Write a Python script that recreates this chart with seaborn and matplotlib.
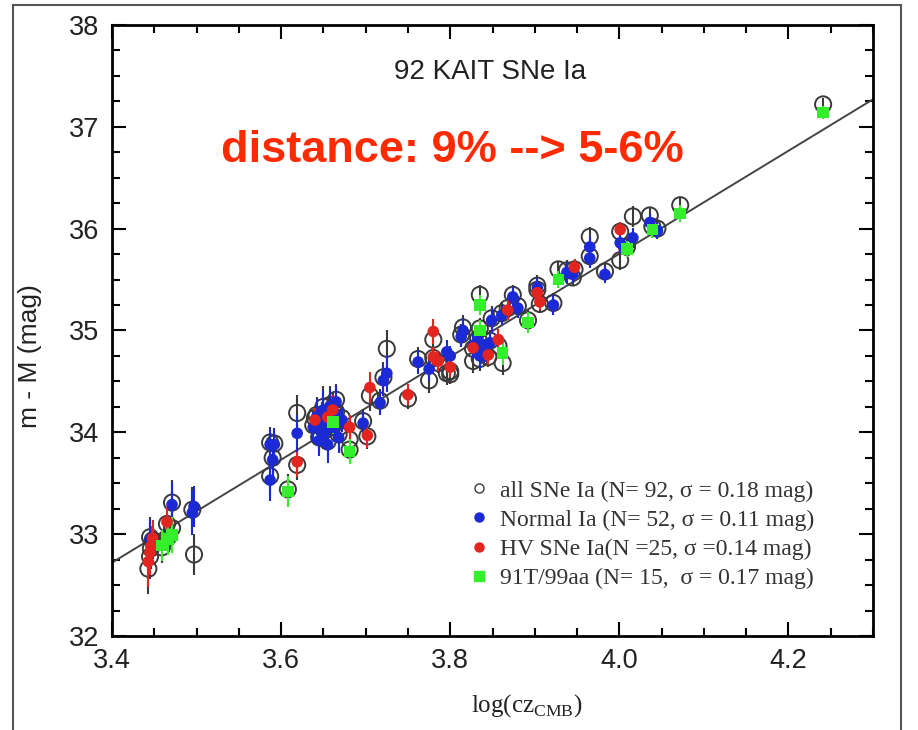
import matplotlib
matplotlib.use("Agg")
import matplotlib.pyplot as plt
from matplotlib.lines import Line2D
from matplotlib.patches import Rectangle
from matplotlib.ticker import MultipleLocator
import numpy as np
import pandas as pd
import seaborn as sns

# ---- data: log(cz_CMB) and distance modulus for the KAIT sample ----
normal_logcz = [3.445, 3.471, 3.495, 3.497, 3.587, 3.590, 3.587, 3.592, 3.619, 3.638,
                3.642, 3.645, 3.648, 3.650, 3.652, 3.655, 3.658, 3.662, 3.665, 3.668,
                3.697, 3.717, 3.721, 3.725, 3.762, 3.775, 3.796, 3.800, 3.813, 3.815,
                3.827, 3.833, 3.835, 3.840, 3.847, 3.849, 3.861, 3.874, 3.880, 3.903,
                3.922, 3.938, 3.945, 3.965, 3.965, 3.983, 4.001, 4.016, 4.036, 4.045,
                3.665, 3.672]
normal_mu = [32.95, 33.29, 33.21, 33.27, 33.88, 33.73, 33.53, 33.88, 33.99, 34.05,
             34.15, 33.92, 34.10, 34.22, 34.00, 33.88, 34.25, 34.05, 34.18, 33.95,
             34.09, 34.29, 34.51, 34.58, 34.69, 34.62, 34.79, 34.75, 34.94, 35.00,
             34.85, 34.90, 34.75, 34.80, 34.88, 35.10, 35.15, 35.33, 35.22, 35.42,
             35.25, 35.57, 35.55, 35.82, 35.71, 35.55, 35.86, 35.91, 36.06, 35.98,
             34.30, 34.12]
normal_err = [0.20, 0.22, 0.22, 0.20, 0.15, 0.18, 0.20, 0.15, 0.18, 0.15,
              0.18, 0.15, 0.18, 0.20, 0.15, 0.18, 0.18, 0.15, 0.15, 0.15,
              0.12, 0.12, 0.15, 0.18, 0.12, 0.12, 0.12, 0.10, 0.10, 0.12,
              0.12, 0.10, 0.12, 0.12, 0.10, 0.12, 0.10, 0.10, 0.10, 0.10,
              0.10, 0.10, 0.08, 0.10, 0.10, 0.08, 0.10, 0.10, 0.08, 0.08,
              0.15, 0.12]

hv_logcz = [3.443, 3.445, 3.446, 3.448, 3.465, 3.619, 3.655, 3.661, 3.681, 3.702,
            3.705, 3.640, 3.750, 3.780, 3.780, 3.800, 3.827, 3.845, 3.857, 3.868,
            3.903, 3.906, 3.947, 4.001, 3.786]
hv_mu = [32.73, 32.82, 32.88, 32.96, 33.12, 33.71, 34.15, 34.22, 34.05, 33.97,
         34.44, 34.12, 34.37, 34.99, 34.74, 34.64, 34.83, 34.76, 34.91, 35.20,
         35.37, 35.28, 35.62, 35.99, 34.70]
hv_err = [0.25, 0.22, 0.20, 0.18, 0.15, 0.15, 0.15, 0.15, 0.12, 0.12,
          0.15, 0.12, 0.10, 0.12, 0.10, 0.10, 0.10, 0.10, 0.10, 0.10,
          0.08, 0.08, 0.08, 0.08, 0.10]

t91_logcz = [3.459, 3.471, 3.608, 3.661, 3.681, 3.835, 3.835, 3.862, 3.892, 3.928,
             4.009, 4.039, 4.072, 4.241, 3.466]
t91_mu = [32.89, 32.99, 33.42, 34.10, 33.81, 35.00, 35.25, 34.78, 35.08, 35.50,
          35.80, 35.99, 36.15, 37.14, 32.95]
t91_err = [0.15, 0.18, 0.15, 0.12, 0.12, 0.10, 0.10, 0.12, 0.10, 0.08,
           0.08, 0.08, 0.08, 0.06, 0.15]

# full sample (open circles), listed in the order normal, HV, 91T/99aa
all_logcz = normal_logcz + hv_logcz + t91_logcz
all_mu = [32.97, 33.31, 33.24, 32.80, 33.90, 33.75, 33.57, 33.89, 34.19, 34.07,
          34.17, 33.95, 34.12, 34.25, 34.02, 33.91, 34.27, 34.07, 34.20, 33.98,
          34.11, 34.31, 34.54, 34.82, 34.72, 34.51, 34.58, 34.60, 34.96, 35.03,
          34.70, 34.92, 34.72, 34.78, 34.90, 35.12, 35.17, 35.35, 35.24, 35.44,
          35.27, 35.59, 35.52, 35.92, 35.73, 35.58, 35.69, 36.12, 36.13, 36.00,
          34.32, 34.14,
          32.66, 32.78, 32.86, 32.94, 33.10, 33.68, 34.17, 34.24, 33.93, 33.96,
          34.36, 34.14, 34.33, 34.91, 34.73, 34.57, 34.82, 34.74, 34.85, 35.22,
          35.40, 35.26, 35.60, 35.97, 34.68,
          32.87, 33.06, 33.44, 34.12, 33.83, 35.02, 35.35, 34.68, 35.10, 35.60,
          35.82, 36.02, 36.23, 37.22, 32.97]
all_err = normal_err + hv_err + t91_err

# Hubble-law fit line end points
fit_logcz = [3.4, 4.3]
fit_mu = [32.72, 37.27]

group_labels = [
    "all SNe Ia (N= 92, σ = 0.18 mag)",
    "Normal Ia (N= 52, σ = 0.11 mag)",
    "HV SNe Ia(N =25, σ =0.14 mag)",
    "91T/99aa (N= 15,  σ = 0.17 mag)",
]

# ---- styling ----
sns.set_theme(style="ticks")
plt.rcParams["font.family"] = ["Liberation Sans", "DejaVu Sans"]

blue = "#1c2ad6"
red = "#e3241f"
green = "#35ee2c"
ring = "#3a3a3a"

df_all = pd.DataFrame({"logcz": all_logcz, "mu": all_mu, "err": all_err})
df_groups = pd.concat([
    pd.DataFrame({"logcz": normal_logcz, "mu": normal_mu, "err": normal_err, "type": "normal"}),
    pd.DataFrame({"logcz": hv_logcz, "mu": hv_mu, "err": hv_err, "type": "hv"}),
    pd.DataFrame({"logcz": t91_logcz, "mu": t91_mu, "err": t91_err, "type": "t91"}),
], ignore_index=True)
palette = {"normal": blue, "hv": red, "t91": green}
markers = {"normal": "o", "hv": "o", "t91": "s"}

fig = plt.figure(figsize=(9.18, 7.3), dpi=100)
ax = fig.add_axes([0.1220, 0.1288, 0.8290, 0.8370])

# fit line
sns.lineplot(x=fit_logcz, y=fit_mu, ax=ax, color="#444444", lw=1.4, zorder=1)

# open circles for the whole sample
ax.errorbar(df_all["logcz"], df_all["mu"], yerr=df_all["err"], fmt="none",
            ecolor=ring, elinewidth=1.5, capsize=0, zorder=2)
sns.scatterplot(data=df_all, x="logcz", y="mu", ax=ax, s=135, marker="o",
                facecolors="none", edgecolor=ring, linewidth=1.4, zorder=3)

# coloured sub-samples
for key, sub in df_groups.groupby("type"):
    ax.errorbar(sub["logcz"], sub["mu"], yerr=sub["err"], fmt="none",
                ecolor=palette[key], elinewidth=1.5, capsize=0, zorder=4)
sns.scatterplot(data=df_groups, x="logcz", y="mu", hue="type", style="type",
                palette=palette, markers=markers, s=70, linewidth=0, ax=ax,
                legend=False, zorder=5)

# axes
ax.set_xlim(3.4, 4.3)
ax.set_ylim(32, 38)
ax.xaxis.set_major_locator(MultipleLocator(0.2))
ax.xaxis.set_minor_locator(MultipleLocator(0.05))
ax.yaxis.set_major_locator(MultipleLocator(1))
ax.yaxis.set_minor_locator(MultipleLocator(0.25))
ax.set_xticks([3.4, 3.6, 3.8, 4.0, 4.2])
ax.set_xticklabels(["3.4", "3.6", "3.8", "4.0", "4.2"])
ax.tick_params(which="both", direction="in", top=True, right=True,
               width=1.5, color="black", labelsize=19.5, labelcolor="#222222")
ax.tick_params(which="major", length=10)
ax.tick_params(which="minor", length=6)
ax.tick_params(axis="x", pad=9)
ax.tick_params(axis="y", pad=9)
for sp in ax.spines.values():
    sp.set_linewidth(2)
    sp.set_color("black")
ax.set_xlabel("")
ax.set_ylabel("")

fig.text(30 / 918, 1 - 356 / 730, "m - M (mag)", rotation=90, ha="center",
         va="center", fontsize=19, color="#222222")
fig.text(527 / 918, 1 - 706 / 730, r"log(cz$_{\mathregular{CMB}}$)", ha="center",
         va="center", fontsize=18, color="#222222", family="Liberation Serif")

fig.text(490 / 918, 1 - 72 / 730, "92 KAIT SNe Ia", ha="center", va="center",
         fontsize=20, color="#222222")
fig.text(452 / 918, 1 - 150 / 730, "distance: 9% --> 5-6%", ha="center",
         va="center", fontsize=32.5, fontweight="bold", color="#ff2a00")

# legend
handles = [
    Line2D([], [], ls="none", marker="o", ms=6.5, mfc="none", mec=ring, mew=1.0),
    Line2D([], [], ls="none", marker="o", ms=6.5, mfc=blue, mec=blue),
    Line2D([], [], ls="none", marker="o", ms=6.5, mfc=red, mec=red),
    Line2D([], [], ls="none", marker="s", ms=6.5, mfc=green, mec=green),
]
ax.legend(handles, group_labels, loc="center left",
          bbox_to_anchor=(468 / 918, 1 - 534.5 / 730), bbox_transform=fig.transFigure,
          frameon=False, borderpad=0, borderaxespad=0, handlelength=0.95,
          handletextpad=0.4, labelspacing=0.32,
          prop={"family": "Liberation Serif", "size": 17}, labelcolor="#333333")

# slide frame around the figure
fig.patches.append(Rectangle((13 / 918, -0.02), (901 - 13) / 918, 1.02 - 5 / 730,
                             transform=fig.transFigure, fill=False,
                             edgecolor="#555555", linewidth=1.5))

fig.savefig("out.png", dpi=100)
